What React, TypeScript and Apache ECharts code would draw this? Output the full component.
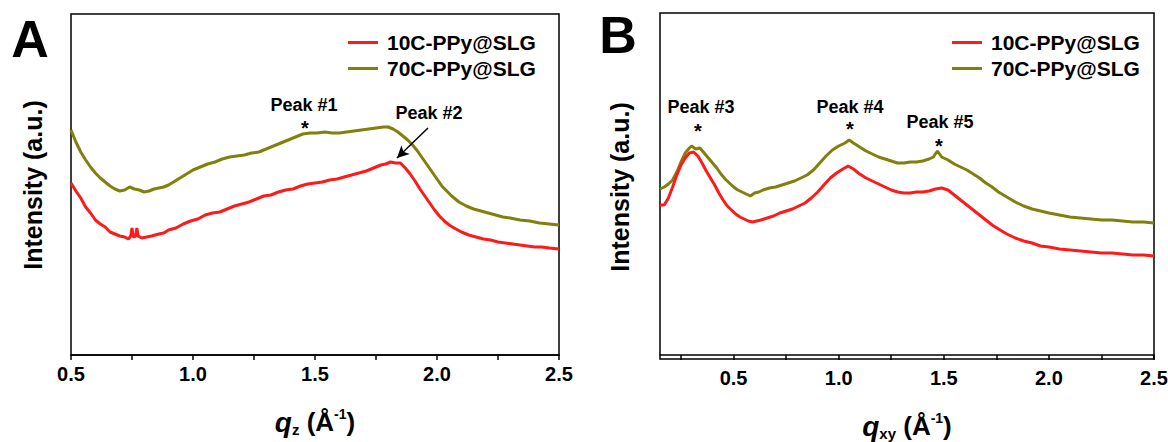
import React, { useEffect, useRef } from 'react';
import * as echarts from 'echarts';

const seriesNames = ['10C-PPy@SLG', '70C-PPy@SLG'];

// Panel A: intensity (a.u.) vs q_z
const redA: number[][] = [
  [0.50,172],[0.52,164],[0.54,157],[0.56,148],[0.58,142],[0.60,135],[0.62,131],[0.64,128],[0.66,123],[0.68,121],
  [0.70,119],[0.72,118],[0.735,116],[0.745,119],[0.75,127],[0.755,118],[0.765,119],[0.77,127],[0.775,119],[0.79,117],
  [0.81,118],[0.83,119],[0.86,121],[0.88,122],[0.90,125],[0.93,127],[0.96,131],[0.99,134],[1.02,136],[1.05,140],
  [1.08,142],[1.11,143],[1.14,146],[1.17,149],[1.20,151],[1.23,153],[1.26,156],[1.29,159],[1.32,160],[1.35,163],
  [1.38,165],[1.41,166],[1.44,169],[1.47,171],[1.50,172],[1.53,173],[1.56,175],[1.59,176],[1.62,178],[1.65,180],
  [1.68,182],[1.71,184],[1.74,187],[1.77,190],[1.79,191],[1.81,193],[1.83,192],[1.85,192],[1.87,187],[1.89,181],
  [1.91,174],[1.93,166],[1.95,159],[1.97,152],[1.99,145],[2.01,139],[2.03,134],[2.05,130],[2.07,127],[2.10,123],
  [2.13,120],[2.16,118],[2.19,116],[2.22,115],[2.25,113],[2.28,112],[2.31,111],[2.34,110],[2.37,109],[2.40,108],
  [2.43,108],[2.46,107],[2.50,106]
];
const oliveA: number[][] = [
  [0.50,225],[0.52,213],[0.54,203],[0.56,195],[0.58,188],[0.60,182],[0.62,177],[0.64,173],[0.66,169],[0.68,166],
  [0.70,164],[0.72,165],[0.74,168],[0.76,166],[0.78,165],[0.80,163],[0.82,164],[0.84,166],[0.86,167],[0.88,168],
  [0.90,170],[0.92,173],[0.94,176],[0.96,179],[0.98,182],[1.00,185],[1.03,188],[1.06,191],[1.09,193],[1.12,196],
  [1.15,198],[1.18,199],[1.21,200],[1.24,202],[1.27,203],[1.30,206],[1.33,209],[1.36,212],[1.39,215],[1.42,218],
  [1.45,221],[1.48,222],[1.51,222],[1.54,223],[1.57,222],[1.60,222],[1.63,223],[1.66,224],[1.69,225],[1.72,226],
  [1.75,227],[1.78,228],[1.80,228],[1.82,226],[1.84,223],[1.86,219],[1.88,215],[1.90,210],[1.92,204],[1.94,197],
  [1.96,190],[1.98,183],[2.00,176],[2.02,169],[2.04,164],[2.06,159],[2.09,153],[2.12,149],[2.15,146],[2.18,144],
  [2.21,142],[2.24,140],[2.27,138],[2.30,137],[2.34,135],[2.38,134],[2.42,132],[2.46,131],[2.50,130]
];

// Panel B: intensity (a.u.) vs q_xy
const redB: number[][] = [
  [0.15,150],[0.17,150],[0.19,157],[0.21,168],[0.23,180],[0.25,190],[0.27,197],[0.29,202],[0.31,203],[0.33,199],
  [0.35,192],[0.37,184],[0.39,177],[0.41,170],[0.43,162],[0.45,155],[0.47,149],[0.49,145],[0.51,141],[0.53,138],
  [0.55,136],[0.57,134],[0.59,133],[0.61,134],[0.63,135],[0.66,137],[0.69,139],[0.72,142],[0.75,144],[0.78,146],
  [0.81,149],[0.84,152],[0.87,157],[0.90,163],[0.93,170],[0.96,177],[0.99,182],[1.02,186],[1.045,189],[1.07,186],
  [1.10,181],[1.13,177],[1.16,174],[1.19,171],[1.22,168],[1.25,165],[1.28,163],[1.31,162],[1.34,162],[1.37,163],
  [1.40,163],[1.43,164],[1.46,166],[1.49,167],[1.52,165],[1.55,160],[1.58,155],[1.61,150],[1.64,145],[1.67,140],
  [1.70,135],[1.73,130],[1.76,126],[1.80,121],[1.84,117],[1.88,114],[1.92,112],[1.96,109],[2.00,108],[2.05,106],
  [2.10,105],[2.15,104],[2.20,103],[2.25,102],[2.30,102],[2.35,101],[2.40,100],[2.45,100],[2.50,99]
];
const oliveB: number[][] = [
  [0.15,166],[0.17,168],[0.19,171],[0.21,175],[0.23,183],[0.25,193],[0.27,202],[0.29,207],[0.30,209],[0.32,206],
  [0.34,207],[0.36,202],[0.38,197],[0.40,192],[0.42,187],[0.44,181],[0.46,176],[0.48,172],[0.50,168],[0.52,165],
  [0.54,163],[0.56,161],[0.58,159],[0.60,162],[0.62,163],[0.64,165],[0.67,167],[0.70,168],[0.73,170],[0.76,172],
  [0.79,174],[0.82,177],[0.85,180],[0.88,185],[0.91,192],[0.94,199],[0.97,205],[1.00,209],[1.03,212],[1.05,215],
  [1.07,212],[1.10,208],[1.13,204],[1.16,201],[1.19,198],[1.22,196],[1.25,194],[1.28,192],[1.31,192],[1.34,193],
  [1.37,193],[1.40,194],[1.43,196],[1.45,198],[1.47,204],[1.49,198],[1.52,195],[1.55,191],[1.58,188],[1.61,185],
  [1.64,181],[1.67,177],[1.70,172],[1.73,168],[1.76,163],[1.80,158],[1.84,153],[1.88,149],[1.92,146],[1.96,144],
  [2.00,142],[2.05,140],[2.10,138],[2.15,137],[2.20,136],[2.25,135],[2.30,135],[2.35,134],[2.40,133],[2.45,133],
  [2.50,132]
];

const xTicksA = [0.5, 0.75, 1.0, 1.25, 1.5, 1.75, 2.0, 2.25, 2.5];
const xLabelsA = [0.5, 1.0, 1.5, 2.0, 2.5];
const xTicksB = [0.25, 0.5, 0.75, 1.0, 1.25, 1.5, 1.75, 2.0, 2.25, 2.5];
const xLabelsB = [0.5, 1.0, 1.5, 2.0, 2.5];
const peakArrowA = [[1.963, 227], [1.836, 197]];

const RED = '#ff1a1a';
const OLIVE = '#80800c';
const FONT = 'Arial, "Liberation Sans", sans-serif';

function xAxisCfg(gridIndex: number, min: number, max: number, ticks: number[], labels: number[], sub: string, gap: number) {
  return {
    type: 'value',
    gridIndex,
    min,
    max,
    splitLine: { show: false },
    axisLine: { show: true, lineStyle: { color: '#000', width: 1.5 } },
    axisTick: { show: true, inside: false, length: 5, customValues: ticks, lineStyle: { color: '#000', width: 1.5 } },
    axisLabel: {
      customValues: labels,
      formatter: (v: number) => v.toFixed(1),
      fontSize: 20,
      fontWeight: 'bold',
      fontFamily: FONT,
      color: '#000',
      margin: 9,
    },
    name: `{q|q}{s|${sub}}{t| (Å}{p|-1}{t|)}`,
    nameLocation: 'middle',
    nameGap: gap,
    nameTextStyle: {
      color: '#000',
      fontFamily: FONT,
      fontWeight: 'bold',
      fontSize: 26,
      rich: {
        q: { fontStyle: 'italic', fontWeight: 'bold', fontSize: 28, fontFamily: FONT, color: '#000', lineHeight: 30 },
        s: { fontWeight: 'bold', fontSize: 15, fontFamily: FONT, color: '#000', lineHeight: 12, verticalAlign: 'bottom' },
        t: { fontWeight: 'bold', fontSize: 26, fontFamily: FONT, color: '#000', lineHeight: 30 },
        p: { fontWeight: 'bold', fontSize: 14, fontFamily: FONT, color: '#000', lineHeight: 16, verticalAlign: 'top' },
      },
    },
  };
}

function yAxisCfg(gridIndex: number, min: number, max: number) {
  return {
    type: 'value',
    gridIndex,
    min,
    max,
    axisLine: { show: false },
    axisTick: { show: false },
    axisLabel: { show: false },
    splitLine: { show: false },
  };
}

function txt(x: number, y: number, text: string, size: number, rotation = 0) {
  return {
    type: 'text',
    x,
    y,
    rotation,
    silent: true,
    style: {
      text,
      font: `bold ${size}px ${FONT}`,
      fill: '#000',
      align: 'center',
      verticalAlign: 'middle',
      textAlign: 'center',
      textVerticalAlign: 'middle',
    },
  };
}

function legendCfg(left: number) {
  return {
    left,
    top: 27,
    orient: 'vertical',
    icon: 'rect',
    itemWidth: 30,
    itemHeight: 3,
    itemGap: 5,
    selectedMode: false,
    data: seriesNames,
    textStyle: { fontSize: 21, fontWeight: 'bold', fontFamily: FONT, color: '#000', padding: [0, 0, 0, 4] },
  };
}

function lineSeries(name: string, data: number[][], color: string, idx: number, extra: any = {}) {
  return {
    type: 'line',
    name,
    data,
    xAxisIndex: idx,
    yAxisIndex: idx,
    showSymbol: false,
    symbol: 'none',
    lineStyle: { color, width: 3 },
    itemStyle: { color },
    silent: true,
    z: color === RED ? 3 : 2,
    ...extra,
  };
}

export default function App() {
  const ref = useRef<HTMLDivElement>(null);
  useEffect(() => {
    if (!ref.current) return;
    const chart = echarts.init(ref.current, null, { renderer: 'svg' });
    chart.setOption({
      animation: false,
      backgroundColor: '#fff',
      textStyle: { fontFamily: FONT },
      grid: [
        { left: 71, top: 14, width: 488, height: 341, show: true, borderColor: '#000', borderWidth: 1.5, backgroundColor: 'transparent', outerBoundsMode: 'none', containLabel: false },
        { left: 660, top: 13, width: 494, height: 346, show: true, borderColor: '#000', borderWidth: 1.5, backgroundColor: 'transparent', outerBoundsMode: 'none', containLabel: false },
      ],
      xAxis: [
        xAxisCfg(0, 0.5, 2.5, xTicksA, xLabelsA, 'z', 52),
        xAxisCfg(1, 0.15, 2.5, xTicksB, xLabelsB, 'xy', 52),
      ],
      yAxis: [yAxisCfg(0, 0, 341), yAxisCfg(1, -4, 342)],
      legend: [legendCfg(343), legendCfg(947)],
      series: [
        lineSeries(seriesNames[0], redA, RED, 0, {
          markLine: {
            silent: true,
            symbol: ['none', 'arrow'],
            symbolSize: [9, 12],
            lineStyle: { color: '#000', width: 1.5, type: 'solid' },
            label: { show: false },
            data: [[{ coord: peakArrowA[0] }, { coord: peakArrowA[1] }]],
          },
        }),
        lineSeries(seriesNames[1], oliveA, OLIVE, 0),
        lineSeries(seriesNames[0], redB, RED, 1),
        lineSeries(seriesNames[1], oliveB, OLIVE, 1),
      ],
      graphic: [
        txt(30, 39, 'A', 52),
        txt(618, 35, 'B', 52),
        txt(33, 185, 'Intensity (a.u.)', 25, Math.PI / 2),
        txt(620, 187, 'Intensity (a.u.)', 25, Math.PI / 2),
        txt(304, 105, 'Peak #1', 18),
        txt(305, 128, '*', 20),
        txt(429, 113, 'Peak #2', 18),
        txt(701, 107, 'Peak #3', 18),
        txt(698, 131, '*', 20),
        txt(850, 107, 'Peak #4', 18),
        txt(850, 129, '*', 20),
        txt(940, 122, 'Peak #5', 18),
        txt(939, 146, '*', 20),
      ],
    });
    return () => chart.dispose();
  }, []);
  return <div ref={ref} style={{ position: 'absolute', left: 0, top: 0, width: 1168, height: 442 }} />;
}
